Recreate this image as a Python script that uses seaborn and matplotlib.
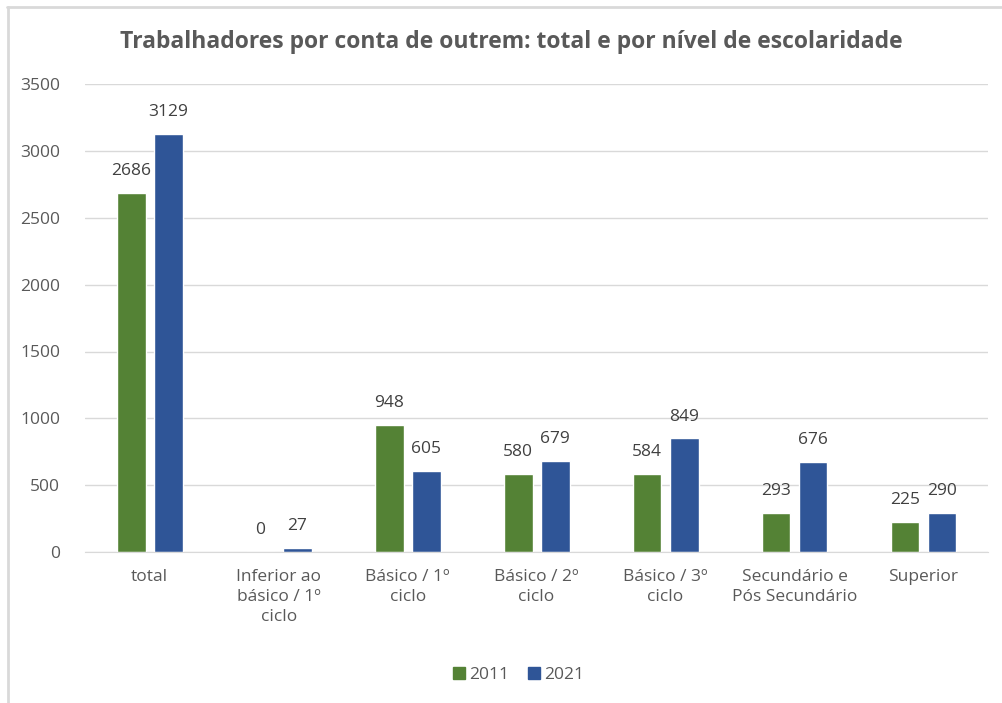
import matplotlib.pyplot as plt
import seaborn as sns
import pandas as pd
from matplotlib.lines import Line2D

categories = ["total", "Inferior ao\nbásico / 1º\nciclo", "Básico / 1º\nciclo",
              "Básico / 2º\nciclo", "Básico / 3º\nciclo", "Secundário e\nPós Secundário",
              "Superior"]
values_2011 = [2686, 0, 948, 580, 584, 293, 225]
values_2021 = [3129, 27, 605, 679, 849, 676, 290]
years = ["2011", "2021"]
colors = ["#548235", "#2F5597"]

df = pd.DataFrame({
    "categoria": categories * 2,
    "valor": values_2011 + values_2021,
    "ano": [years[0]] * len(categories) + [years[1]] * len(categories),
})

sns.set_style("white")
plt.rcParams["font.family"] = ["Open Sans", "DejaVu Sans"]

fig = plt.figure(figsize=(10.03, 7.03), dpi=100)
ax = fig.add_axes([0.085, 0.215, 0.9, 0.665])

sns.barplot(data=df, x="categoria", y="valor", hue="ano", palette=colors,
            saturation=1, width=0.574, gap=0.22, ax=ax, legend=False)

for cont in ax.containers:
    ax.bar_label(cont, padding=10, fontsize=12.5, color="#404040")

ax.set_ylim(0, 3500)
ax.set_yticks(range(0, 3501, 500))
ax.set_xlim(-0.5, len(categories) - 0.5)
ax.yaxis.grid(True, color="#D9D9D9", linewidth=1)
ax.set_axisbelow(True)
for s in ["top", "right", "left"]:
    ax.spines[s].set_visible(False)
ax.spines["bottom"].set_color("#D9D9D9")
ax.tick_params(axis="both", length=0, labelsize=12.5, colors="#595959", pad=12)
ax.tick_params(axis="y", pad=18)
for lbl in ax.get_xticklabels():
    lbl.set_linespacing(1.35)
ax.set_xlabel("")
ax.set_ylabel("")

fig.text(0.51, 0.94, "Trabalhadores por conta de outrem: total e por nível de escolaridade",
         ha="center", va="center", fontsize=16.5, fontweight="bold", color="#595959")

handles = [Line2D([], [], marker="s", linestyle="", markersize=9, color=c) for c in colors]
fig.legend(handles, years, loc="center", bbox_to_anchor=(0.515, 0.04), ncol=2,
           frameon=False, fontsize=12.5, labelcolor="#595959", handletextpad=0.0,
           handlelength=1.2, columnspacing=0.8)

# chart frame edges visible in the screenshot
fig.add_artist(Line2D([0.007, 1.0], [0.99, 0.99], color="#D9D9D9", linewidth=2))
fig.add_artist(Line2D([0.008, 0.008], [0.0, 0.99], color="#D9D9D9", linewidth=2))

fig.savefig("out.png", dpi=100)
